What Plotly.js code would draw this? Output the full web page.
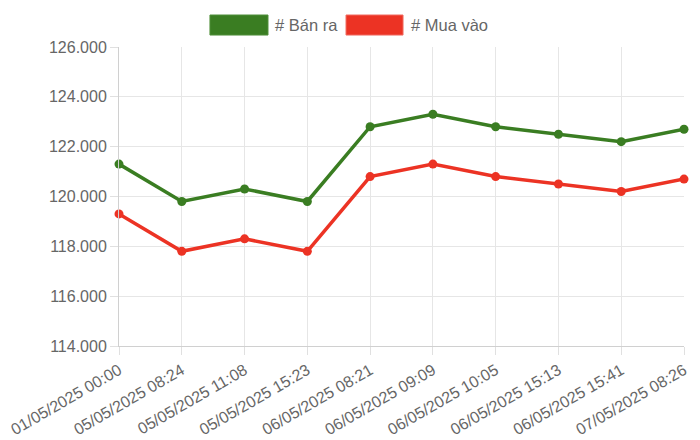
<!DOCTYPE html>
<html>
<head>
<meta charset="utf-8">
<script src="https://cdn.plot.ly/plotly-3.0.1.min.js"></script>
<style>
  html, body { margin: 0; padding: 0; background: #fff; }
  #chart { width: 700px; height: 440px; }
</style>
</head>
<body>
<div id="chart"></div>
<script>
var labels = [
    "01/05/2025 00:00", "05/05/2025 08:24", "05/05/2025 11:08", "05/05/2025 15:23",
    "06/05/2025 08:21", "06/05/2025 09:09", "06/05/2025 10:05", "06/05/2025 15:13",
    "06/05/2025 15:41", "07/05/2025 08:26"
];
var banRa = [121300, 119800, 120300, 119800, 122800, 123300, 122800, 122500, 122200, 122700];
var muaVao = [119300, 117800, 118300, 117800, 120800, 121300, 120800, 120500, 120200, 120700];

var green = "#3a7d22",
    red = "#ec3324";

function lineTrace(name, values, color) {
    return {
        x: labels,
        y: values,
        name: name,
        type: "scatter",
        mode: "lines+markers",
        cliponaxis: false,
        line: { color: color, width: 3.5 },
        marker: { color: color, size: 9 },
        hoverinfo: "skip",
    };
}

var fontFamily = "Liberation Sans, Arial, Helvetica, sans-serif";

var layout = {
    width: 700,
    height: 440,
    showlegend: false,
    separators: ",.",
    font: { family: fontFamily, size: 16, color: "#666" },
    paper_bgcolor: "#fff",
    plot_bgcolor: "#fff",
    margin: { l: 119, r: 16, t: 47, b: 94, pad: 0 },
    xaxis: {
        type: "category",
        range: [0, labels.length - 1],
        tickangle: -30,
        showgrid: true,
        gridcolor: "#e6e6e6",
        showline: true,
        linecolor: "#d0d0d0",
        ticks: "outside",
        ticklen: 8,
        tickcolor: "#e0e0e0",
        tickfont: { size: 16, color: "#666" },
        zeroline: false,
        fixedrange: true,
    },
    yaxis: {
        range: [114000, 126000],
        dtick: 2000,
        tick0: 114000,
        tickformat: ",d",
        showgrid: true,
        gridcolor: "#e6e6e6",
        showline: true,
        linecolor: "#d0d0d0",
        ticks: "outside",
        ticklen: 8,
        tickcolor: "#e0e0e0",
        tickfont: { size: 16, color: "#666" },
        zeroline: false,
        fixedrange: true,
    },
    // legend boxes drawn by hand, chart.js style
    shapes: [
        {
            type: "rect", xref: "paper", yref: "paper",
            x0: 0.161, x1: 0.2637, y0: 1.040, y1: 1.107,
            fillcolor: green, line: { color: "#4f8f3a", width: 1 },
        },
        {
            type: "rect", xref: "paper", yref: "paper",
            x0: 0.4018, x1: 0.5027, y0: 1.040, y1: 1.107,
            fillcolor: red, line: { color: "#f06a60", width: 1 },
        },
    ],
    annotations: [
        {
            text: "# Bán ra", xref: "paper", yref: "paper",
            x: 0.2725, y: 1.0736, xanchor: "left", yanchor: "middle",
            showarrow: false, font: { size: 16.5, color: "#666" },
        },
        {
            text: "# Mua vào", xref: "paper", yref: "paper",
            x: 0.513, y: 1.0736, xanchor: "left", yanchor: "middle",
            showarrow: false, font: { size: 16.5, color: "#666" },
        },
    ],
};

Plotly.newPlot(
    "chart",
    [lineTrace("# Bán ra", banRa, green), lineTrace("# Mua vào", muaVao, red)],
    layout,
    { staticPlot: true }
);
</script>
</body>
</html>
